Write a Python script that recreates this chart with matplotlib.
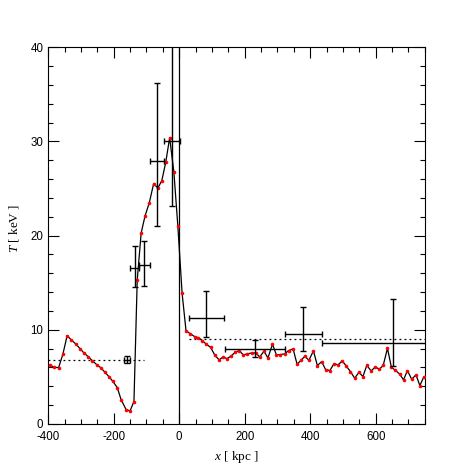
import numpy as np
import matplotlib
matplotlib.use('Agg')
import matplotlib.pyplot as plt
from matplotlib.ticker import MultipleLocator

# 온도 프로파일 (kpc, keV)
x_prof = [-395, -381, -368, -355, -342, -329, -316, -303, -290, -278, -265, -252,
          -239, -227, -214, -202, -189, -177, -162, -150, -138,
          -128, -116, -104, -91, -78, -65, -53, -41, -29, -16, -4,
          9, 21, 34, 47, 59, 71, 83, 96, 109, 122, 134, 146, 159, 172, 184,
          196, 208, 221, 234, 246, 259, 271, 285, 297, 309, 322, 334, 348,
          360, 372, 384, 396, 410, 422, 435, 447, 460, 473, 485, 498, 510,
          523, 536, 549, 561, 573, 586, 599, 611, 623, 636, 648, 660, 673,
          685, 697, 710, 723, 735, 747]
T_prof = [6.26, 6.0, 5.98, 7.4, 9.37, 8.9, 8.5, 8.0, 7.5, 7.15, 6.7, 6.3,
          5.95, 5.5, 5.0, 4.5, 3.85, 2.55, 1.52, 1.38, 2.37,
          15.28, 20.27, 22.1, 23.5, 25.5, 25.04, 25.82, 27.77, 30.38, 26.7, 21.0,
          13.87, 9.87, 9.58, 9.27, 9.15, 8.84, 8.45, 8.13, 7.29, 6.79, 7.11, 6.93,
          7.21, 7.64, 7.75, 7.32, 7.43, 7.53, 7.53, 7.11, 7.71, 7.0, 8.45, 7.32,
          7.36, 7.43, 7.78, 7.96, 6.33, 6.75, 7.18, 6.75, 7.75, 6.19, 6.61, 5.77,
          5.66, 6.4, 6.26, 6.68, 6.15, 5.55, 4.85, 5.48, 5.02, 6.22, 5.62, 6.05,
          5.8, 6.2, 8.03, 6.01, 5.69, 5.3, 4.67, 5.66, 4.74, 5.2, 4.07, 4.99]

# 관측 bin (중심, 좌/우 폭, 온도, 하/상 오차)
bin_x = [-159, -135, -106, -67, -23, 83, 233, 378, 653]
bin_xlo = [10, 14, 16, 23, 24, 54, 94, 56, 217]
bin_xhi = [10, 13, 18, 22, 25, 55, 89, 58, 217]
bin_T = [6.82, 16.5, 16.9, 27.94, 30.0, 11.2, 7.92, 9.55, 8.63]
bin_Tlo = [0.4, 1.93, 2.23, 6.9, 6.9, 2.0, 0.77, 1.77, 2.48]
bin_Thi = [0.4, 2.42, 2.55, 8.26, 12.0, 2.95, 0.98, 2.9, 4.6]

# 평균 온도 (점선)
mean_left = {'x': [-400, -108], 'T': [6.82, 6.82]}
mean_right = {'x': [29, 750], 'T': [8.98, 8.98]}

plt.rcParams['font.family'] = ['Liberation Sans', 'DejaVu Sans']
plt.rcParams['axes.unicode_minus'] = False
plt.rcParams['mathtext.fontset'] = 'custom'
plt.rcParams['mathtext.it'] = 'Liberation Serif:italic'
plt.rcParams['mathtext.rm'] = 'Liberation Serif'

fig = plt.figure(figsize=(4.72, 4.72), dpi=100)
ax = fig.add_axes([0.102, 0.102, 0.798, 0.798])

ax.axvline(0, color='black', lw=0.9)
ax.plot(mean_left['x'], mean_left['T'], color='black', ls=(0, (1.5, 2.5)), lw=0.9)
ax.plot(mean_right['x'], mean_right['T'], color='black', ls=(0, (1.5, 2.5)), lw=0.9)

ax.plot(x_prof, T_prof, color='black', lw=0.9, zorder=3)
ax.plot(x_prof, T_prof, 'o', color='red', ms=2.6, mec='red', mew=0, zorder=4)

ax.errorbar(bin_x, bin_T, xerr=[bin_xlo, bin_xhi], yerr=[bin_Tlo, bin_Thi],
            fmt='none', ecolor='black', elinewidth=1.0, capsize=2.5, capthick=1.0,
            zorder=5)

ax.set_xlim(-400, 750)
ax.set_ylim(0, 40)
ax.xaxis.set_major_locator(MultipleLocator(200))
ax.xaxis.set_minor_locator(MultipleLocator(50))
ax.yaxis.set_major_locator(MultipleLocator(10))
ax.yaxis.set_minor_locator(MultipleLocator(2))
ax.tick_params(which='both', direction='in', top=True, right=True,
               labelsize=8.3, width=0.8)
ax.tick_params(which='major', length=7.7)
ax.tick_params(which='minor', length=3.4)
ax.tick_params(axis='x', which='major', pad=5)
ax.tick_params(axis='y', which='major', pad=3.5)
for s in ax.spines.values():
    s.set_linewidth(0.8)

ax.set_xlabel(r'$x$ [ kpc ]', family='Liberation Serif', fontsize=9.5)
ax.set_ylabel(r'$T$ [ keV ]', family='Liberation Serif', fontsize=9.5)
ax.xaxis.set_label_coords(0.5, -0.066)
ax.yaxis.set_label_coords(-0.072, 0.52)

fig.savefig('out.png', dpi=100)
